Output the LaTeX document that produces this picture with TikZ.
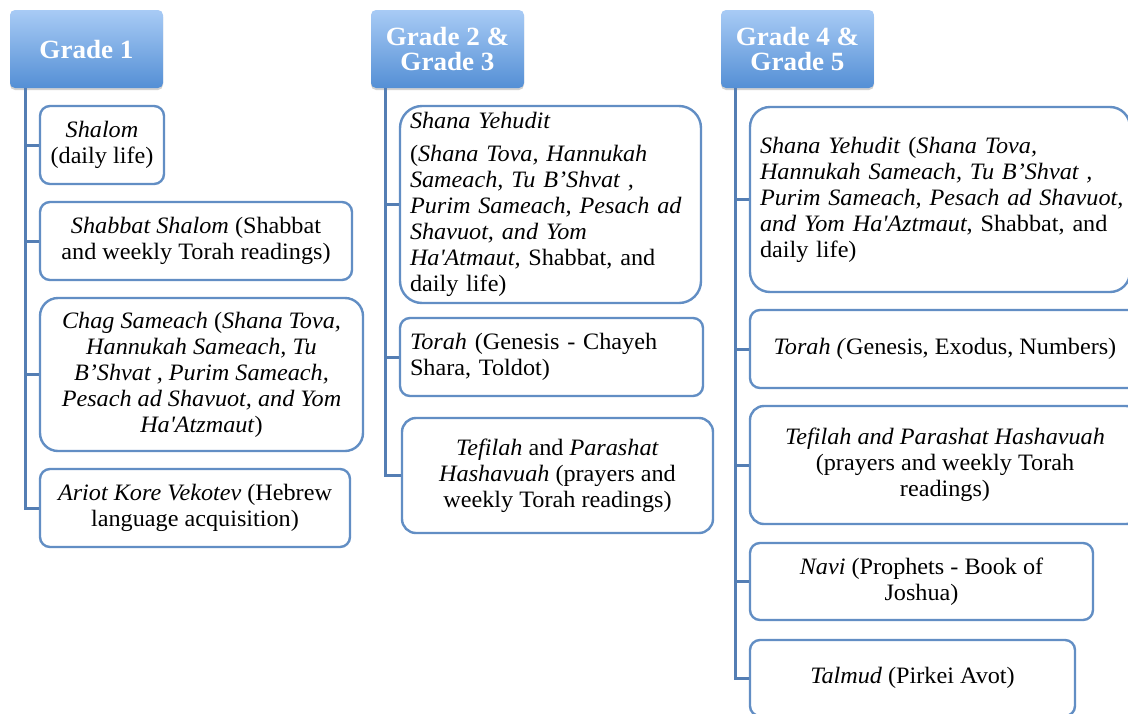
\documentclass[tikz,border=0pt]{standalone}
\usepackage{fontspec}
\setmainfont{Liberation Serif}[FakeStretch=1.03]
\usetikzlibrary{shadows}
\definecolor{hdrtop}{RGB}{168,203,245}
\definecolor{hdrbot}{RGB}{84,143,213}
\definecolor{boxline}{RGB}{98,142,196}
\definecolor{connline}{RGB}{84,126,180}
\newcommand{\oneline}[1]{\mbox{#1}}
\tikzset{
  hdr/.style={rounded corners=5pt, top color=hdrtop, bottom color=hdrbot, draw=none,
    text=white, font=\fontsize{26.3}{25}\selectfont\bfseries, align=center,
    minimum width=153pt, minimum height=78pt, inner sep=0pt,
    drop shadow={opacity=0.35, shadow xshift=0pt, shadow yshift=-2pt}},
  itembox/.style={draw=boxline, line width=2.4pt, fill=white, inner ysep=0pt,
    font=\fontsize{23.5}{26}\selectfont},
  conn/.style={draw=connline, line width=3pt}
}
\begin{document}
\begin{tikzpicture}[x=1pt, y=-1pt]
\clip (0,0) rectangle (1128,713);
\fill[white] (0,0) rectangle (1128,713);
\coordinate (c1) at (25,88);
\coordinate (c2) at (385,88);
\coordinate (c3) at (735,88);
% headers
\node[hdr] (h1) at (86.5,49) {Grade 1};
\node[hdr] (h2) at (447.5,49) {Grade 2 \&\\Grade 3};
\node[hdr] (h3) at (797.5,49) {Grade 4 \&\\Grade 5};
% column 1
\node[itembox, rounded corners=10pt, minimum height=78pt, minimum width=124pt, align=center] (s1) at (102,145)
  {\textit{Shalom}\\(daily life)};
\node[itembox, rounded corners=10pt, minimum height=78pt, minimum width=312pt, align=center] (s2) at (196,241)
  {\textit{Shabbat Shalom} (Shabbat\\and weekly Torah readings)};
\node[itembox, rounded corners=18pt, minimum height=153pt, minimum width=323pt, align=center] (s3) at (201.5,374.5)
  {\textit{Chag Sameach} (\textit{Shana Tova,}\\\textit{Hannukah Sameach, Tu}\\\textit{B’Shvat , Purim Sameach,}\\\textit{Pesach ad Shavuot, and Yom}\\\textit{Ha\textquotesingle Atzmaut})};
\node[itembox, rounded corners=10pt, minimum height=78pt, minimum width=310pt, align=center] (s4) at (195,508)
  {\textit{Ariot Kore Vekotev} (Hebrew\\language acquisition)};
% column 2
\node[itembox, rounded corners=22pt, minimum height=197pt, inner xsep=10pt, text width=281pt, align=left] (t1) at (550.5,204.5)
  {\oneline{\textit{Shana Yehudit}}\\[7pt]\oneline{(\textit{Shana Tova, Hannukah}}\\\oneline{\textit{Sameach, Tu B’Shvat ,}}\\\oneline{\textit{Purim Sameach, Pesach ad}}\\\oneline{\textit{Shavuot, and Yom}}\\\oneline{\textit{Ha\textquotesingle Atmaut,} Shabbat, and}\\\oneline{daily life)}};
\node[itembox, rounded corners=10pt, minimum height=78pt, inner xsep=10pt, text width=283pt, align=left] (t2) at (551.5,357)
  {\oneline{\textit{Torah} (Genesis - Chayeh}\\\oneline{Shara, Toldot)}};
\node[itembox, rounded corners=14pt, minimum height=115pt, minimum width=311pt, align=center] (t3) at (557.5,475.5)
  {\textit{Tefilah} and \textit{Parashat}\\\textit{Hashavuah} (prayers and\\weekly Torah readings)};
% column 3
\node[itembox, rounded corners=20pt, minimum height=185pt, inner xsep=10pt, text width=360pt, align=left] (u1) at (940,199.5)
  {\oneline{\textit{Shana Yehudit} (\textit{Shana Tova,}}\\\oneline{\textit{Hannukah Sameach, Tu B’Shvat ,}}\\\oneline{\textit{Purim Sameach, Pesach ad Shavuot,}}\\\oneline{\textit{and Yom Ha\textquotesingle Aztmaut}, Shabbat, and}\\\oneline{daily life)}};
\node[itembox, rounded corners=10pt, minimum height=78pt, minimum width=390pt, align=center] (u2) at (945,349)
  {\textit{Torah (}Genesis, Exodus, Numbers)};
\node[itembox, rounded corners=14pt, minimum height=118pt, minimum width=390pt, align=center] (u3) at (945,465)
  {\textit{Tefilah and Parashat Hashavuah}\\(prayers and weekly Torah\\readings)};
\node[itembox, rounded corners=10pt, minimum height=77pt, minimum width=343pt, align=center] (u4) at (921.5,581.5)
  {\textit{Navi} (Prophets - Book of\\Joshua)};
\node[itembox, rounded corners=10pt, minimum height=76pt, minimum width=325pt, align=center] (u5) at (912.5,678)
  {\textit{Talmud} (Pirkei Avot)};
% connectors
\foreach \n in {s1,s2,s3,s4} \draw[conn] (c1) |- (\n.west);
\foreach \n in {t1,t2,t3} \draw[conn] (c2) |- (\n.west);
\foreach \n in {u1,u2,u3,u4,u5} \draw[conn] (c3) |- (\n.west);
\end{tikzpicture}
\end{document}
